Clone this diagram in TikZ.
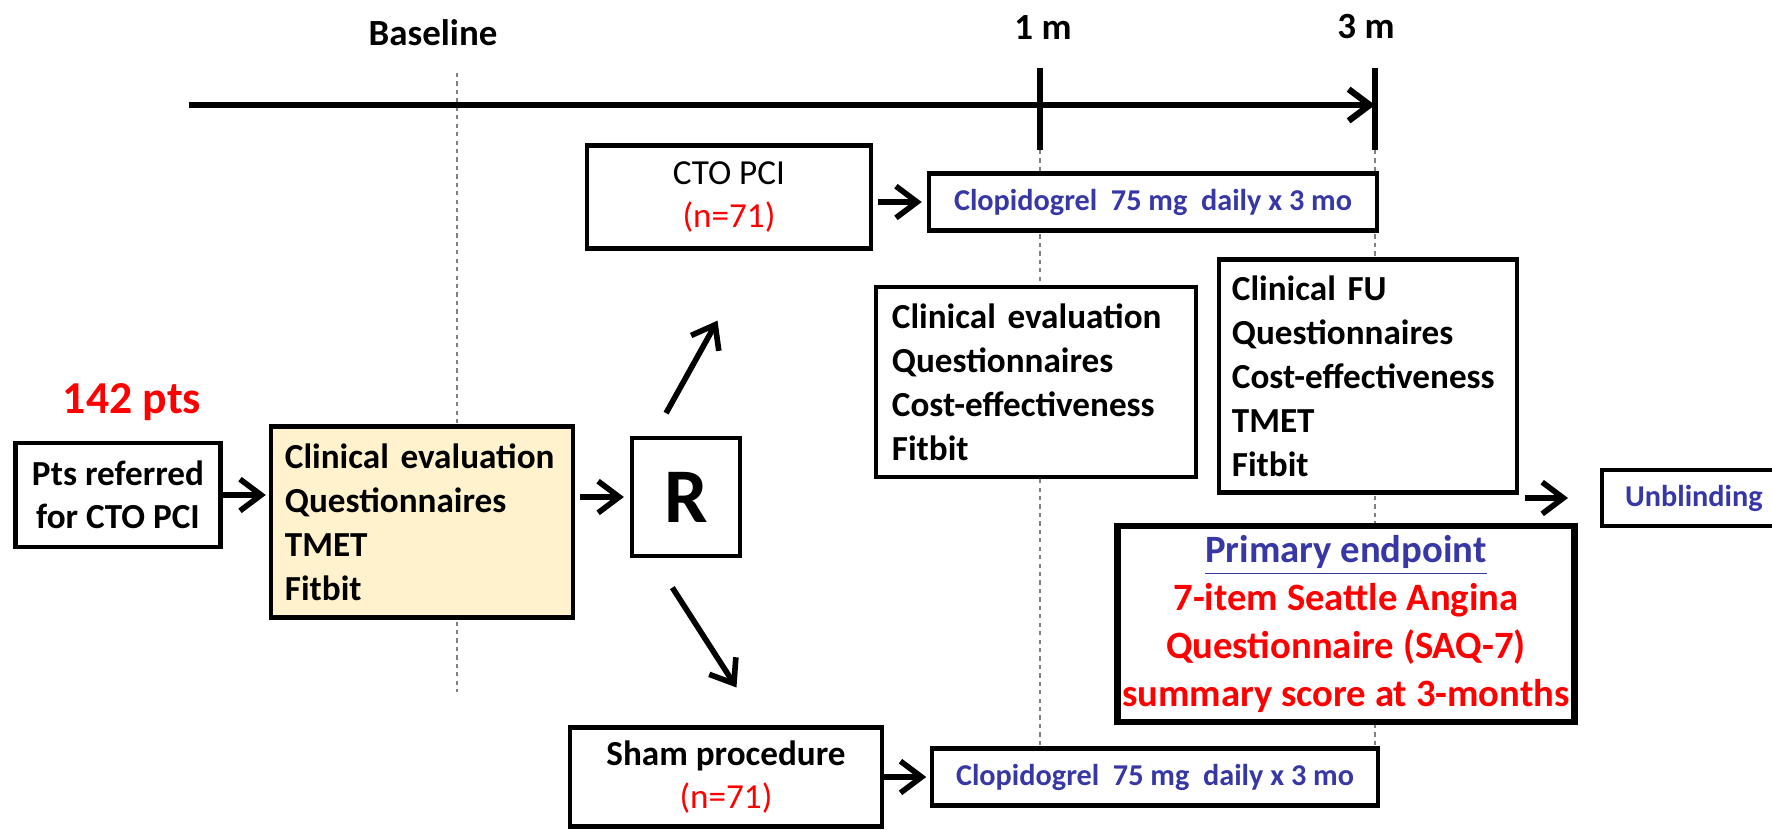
\documentclass[tikz,border=0pt]{standalone}
\usepackage{fontspec}
\setmainfont{Carlito}
\usetikzlibrary{arrows.meta,calc}
\definecolor{drugblue}{RGB}{55,55,165}
\definecolor{baseyellow}{RGB}{255,242,204}
\tikzset{box/.style={draw=black, line width=1.2pt, fill=white, inner sep=0pt, align=center},
listbox/.style={box, align=left, inner xsep=0.14cm, font=\bfseries\fontsize{10}{12.5}\selectfont},
drugbox/.style={box, minimum height=0.57cm, text=drugblue, font=\bfseries\fontsize{8.6}{10}\selectfont},
arr/.style={line width=1.6pt, -{Straight Barb[length=6pt,width=9pt]}},
guide/.style={gray, line width=0.6pt, dash pattern=on 1.2pt off 1.2pt},
timelabel/.style={font=\bfseries\fontsize{10.5}{12}\selectfont},}

\begin{document}
\begin{tikzpicture}[x=0.01cm, y=-0.01cm]
\useasboundingbox (0,0) rectangle (1772,829);
\clip (0,0) rectangle (1772,829);
% time axis
\node[timelabel] (baselbl) at (433,33) {Baseline};
\node[timelabel] (onelbl) at (1043,27) {1 m};
\node[timelabel] (threelbl) at (1366,27) {3 m};
\coordinate (tstart) at (189,105);
\coordinate (tend) at (1375,105);
\coordinate (onetop) at (1040,68);
\coordinate (onebot) at (1040,150);
\coordinate (oneend) at (1040,748);
\coordinate (threetop) at (1375,68);
\coordinate (threebot) at (1375,150);
\coordinate (threeend) at (1375,748);
\coordinate (basetop) at (457,73);
\coordinate (basebot) at (457,692);
\draw[guide] (basetop) -- (basebot);
\draw[guide] (onebot) -- (oneend);
\draw[guide] (threebot) -- (threeend);
\draw[arr, line width=1.8pt] (tstart) -- (tend);
\draw[line width=1.8pt] (onetop) -- (onebot);
\draw[line width=1.8pt] (threetop) -- (threebot);

% boxes
\node[text=red, font=\bfseries\fontsize{13}{15}\selectfont] (total) at (132,402) {142 pts};
\node[box, minimum width=2.05cm, minimum height=1.04cm, font=\bfseries\fontsize{10}{12.3}\selectfont] (referred) at (118,495) {Pts referred\\for CTO PCI};
\node[listbox, fill=baseyellow, text width=2.74cm, minimum height=1.91cm] (baseline) at (422,522) {Clinical evaluation\\Questionnaires\\TMET\\Fitbit};
\node[box, minimum width=1.08cm, minimum height=1.18cm, font=\bfseries\fontsize{22}{24}\selectfont] (rand) at (686,497) {R};
\node[box, minimum width=2.84cm, minimum height=1.03cm, font=\fontsize{10}{12.3}\selectfont] (cto) at (729,197) {CTO PCI\\\textcolor{red}{(n=71)}};
\node[box, minimum width=3.12cm, minimum height=0.99cm, font=\bfseries\fontsize{10}{12.3}\selectfont] (sham) at (726,777) {Sham procedure\\\textcolor{red}{\mdseries(n=71)}};
\node[drugbox, minimum width=4.48cm] (clopa) at (1153,202) {Clopidogrel\ \ 75 mg\ \ daily x 3 mo};
\node[drugbox, minimum width=4.45cm] (clopb) at (1155,777) {Clopidogrel\ \ 75 mg\ \ daily x 3 mo};
\node[listbox, text width=2.88cm, inner xsep=0.16cm, minimum height=1.90cm] (evalone) at (1036,382) {Clinical evaluation\\Questionnaires\\Cost-effectiveness\\Fitbit};
\node[listbox, text width=2.72cm, inner xsep=0.13cm, minimum height=2.33cm] (futhree) at (1368,376) {Clinical FU\\Questionnaires\\Cost-effectiveness\\TMET\\Fitbit};
\node[box, line width=1.8pt, minimum width=4.57cm, minimum height=1.96cm, text=red, font=\bfseries\fontsize{11}{13.7}\selectfont] (primary) at (1346,624) {\textcolor{drugblue}{\underline{Primary endpoint}}\\7-item Seattle Angina\\Questionnaire (SAQ-7)\\summary score at 3-months};
\node[drugbox, anchor=west, align=left, text width=2.2cm, inner xsep=0.23cm, minimum height=0.56cm] (unblind) at (1600,498) {Unblinding};

% arrows
\draw[arr, shorten >=0.03cm] (referred.east) -- (referred.east -| baseline.west);
\draw[arr, shorten <=0.05cm, shorten >=0.06cm] (baseline.east |- rand) -- (rand.west);
\draw[arr, shorten <=0.26cm, shorten >=0.8cm] ($(rand.north west)!0.21!(rand.north east)$) -- ($(cto.south west)!0.595!(cto.south east)$);
\draw[arr, shorten <=0.35cm, shorten >=0.45cm] ($(rand.south west)!0.21!(rand.south east)$) -- ($(sham.north west)!0.61!(sham.north east)$);
\draw[arr, shorten <=0.05cm, shorten >=0.05cm] (cto.east |- clopa.west) -- (clopa.west);
\draw[arr, shorten >=0.04cm] (sham.east |- clopb.west) -- (clopb.west);
\draw[arr, shorten <=0.06cm, shorten >=0.32cm] (futhree.east |- unblind.west) -- (unblind.west);
\end{tikzpicture}
\end{document}
